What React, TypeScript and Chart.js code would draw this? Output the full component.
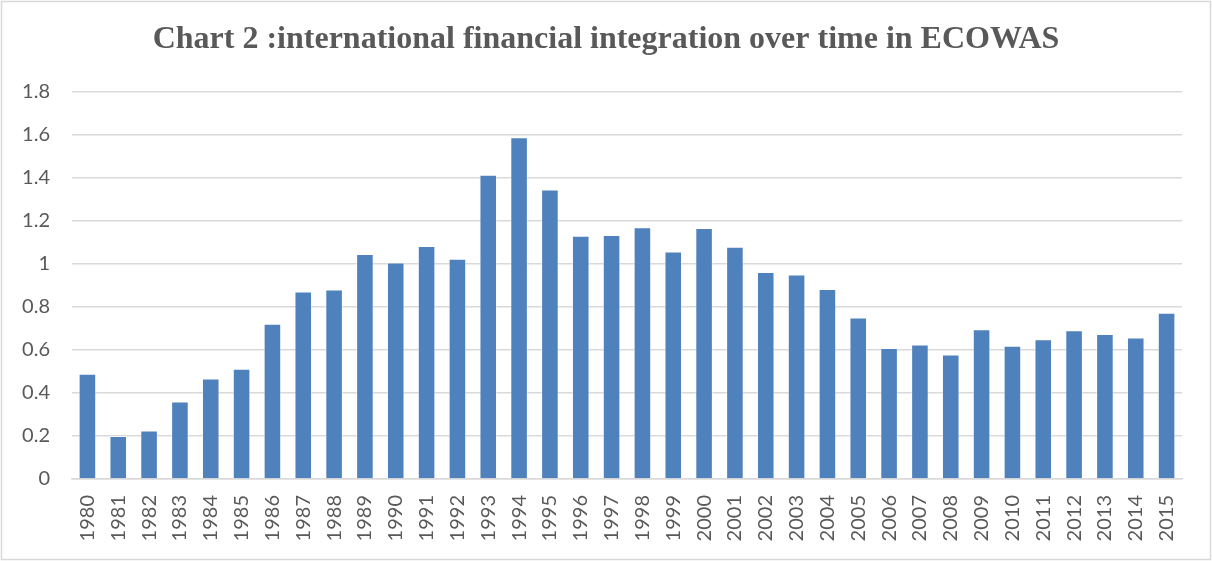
import React, { useEffect, useRef } from "react";
import { Chart, registerables } from "chart.js";

Chart.register(...registerables);

const years: string[] = [
  "1980", "1981", "1982", "1983", "1984", "1985", "1986", "1987", "1988", "1989",
  "1990", "1991", "1992", "1993", "1994", "1995", "1996", "1997", "1998", "1999",
  "2000", "2001", "2002", "2003", "2004", "2005", "2006", "2007", "2008", "2009",
  "2010", "2011", "2012", "2013", "2014", "2015",
];

const integration: number[] = [
  0.49, 0.2, 0.226, 0.361, 0.468, 0.513, 0.722, 0.872, 0.881, 1.047,
  1.007, 1.084, 1.025, 1.415, 1.59, 1.346, 1.131, 1.135, 1.171, 1.058,
  1.168, 1.08, 0.963, 0.951, 0.884, 0.751, 0.609, 0.626, 0.579, 0.697,
  0.62, 0.65, 0.692, 0.675, 0.658, 0.773,
];

const yMin = 0;
const yMax = 1.8;
const yStep = 0.2;

const titleText = "Chart 2 :international financial integration over time in ECOWAS";

const frame = {
  id: "frame",
  beforeDraw(chart: any) {
    const { ctx, width, height } = chart;
    ctx.save();
    ctx.fillStyle = "#ffffff";
    ctx.fillRect(0, 0, width, height);
    ctx.strokeStyle = "#D9D9D9";
    ctx.lineWidth = 1.5;
    ctx.strokeRect(1.5, 1.5, width - 3, height - 3);
    ctx.restore();
  },
};

export default function App() {
  const ref = useRef<HTMLCanvasElement | null>(null);

  useEffect(() => {
    document.body.style.margin = "0";
    if (!ref.current) return;
    const chart = new Chart(ref.current, {
      type: "bar",
      data: {
        labels: years,
        datasets: [
          {
            data: integration,
            backgroundColor: "#4F81BD",
            borderColor: "rgba(255,255,255,0.5)",
            borderWidth: 1,
            barPercentage: 0.57,
            categoryPercentage: 1,
          },
        ],
      },
      options: {
        animation: false,
        responsive: false,
        layout: { padding: { left: 0, right: 0, top: 0, bottom: 0 } },
        plugins: {
          legend: { display: false },
          tooltip: { enabled: false },
          title: {
            display: true,
            text: titleText,
            color: "#595959",
            font: { family: "'Liberation Serif', 'Times New Roman', serif", size: 32, weight: "bold", lineHeight: 1.2 },
            padding: { top: 21, bottom: 32.6 },
          },
        },
        scales: {
          x: {
            grid: { display: false, drawTicks: false },
            border: { display: true, color: "#D9D9D9", width: 1.5 },
            ticks: {
              color: "#595959",
              font: { family: "Lato, 'Open Sans', sans-serif", size: 20 },
              maxRotation: 90,
              minRotation: 90,
              autoSkip: false,
              padding: 16,
            },
            afterFit: (s: any) => {
              s.height = 82;
            },
          },
          y: {
            min: yMin,
            max: yMax,
            ticks: {
              stepSize: yStep,
              color: "#595959",
              font: { family: "Lato, 'Open Sans', sans-serif", size: 20 },
              padding: 22,
              callback: (v: any) => String(Math.round(Number(v) * 10) / 10),
            },
            grid: { color: "#D9D9D9", lineWidth: 1.5, drawTicks: false },
            border: { display: false },
            afterFit: (s: any) => {
              s.width = 72;
            },
          },
          y2: {
            position: "right",
            display: true,
            ticks: { display: false },
            grid: { display: false, drawTicks: false },
            border: { display: false },
            afterFit: (s: any) => {
              s.width = 30;
            },
          },
        },
      },
      plugins: [frame],
    });
    return () => chart.destroy();
  }, []);

  return (
    <div style={{ width: 1212, height: 561 }}>
      <canvas ref={ref} width={1212} height={561} style={{ display: "block" }} />
    </div>
  );
}
